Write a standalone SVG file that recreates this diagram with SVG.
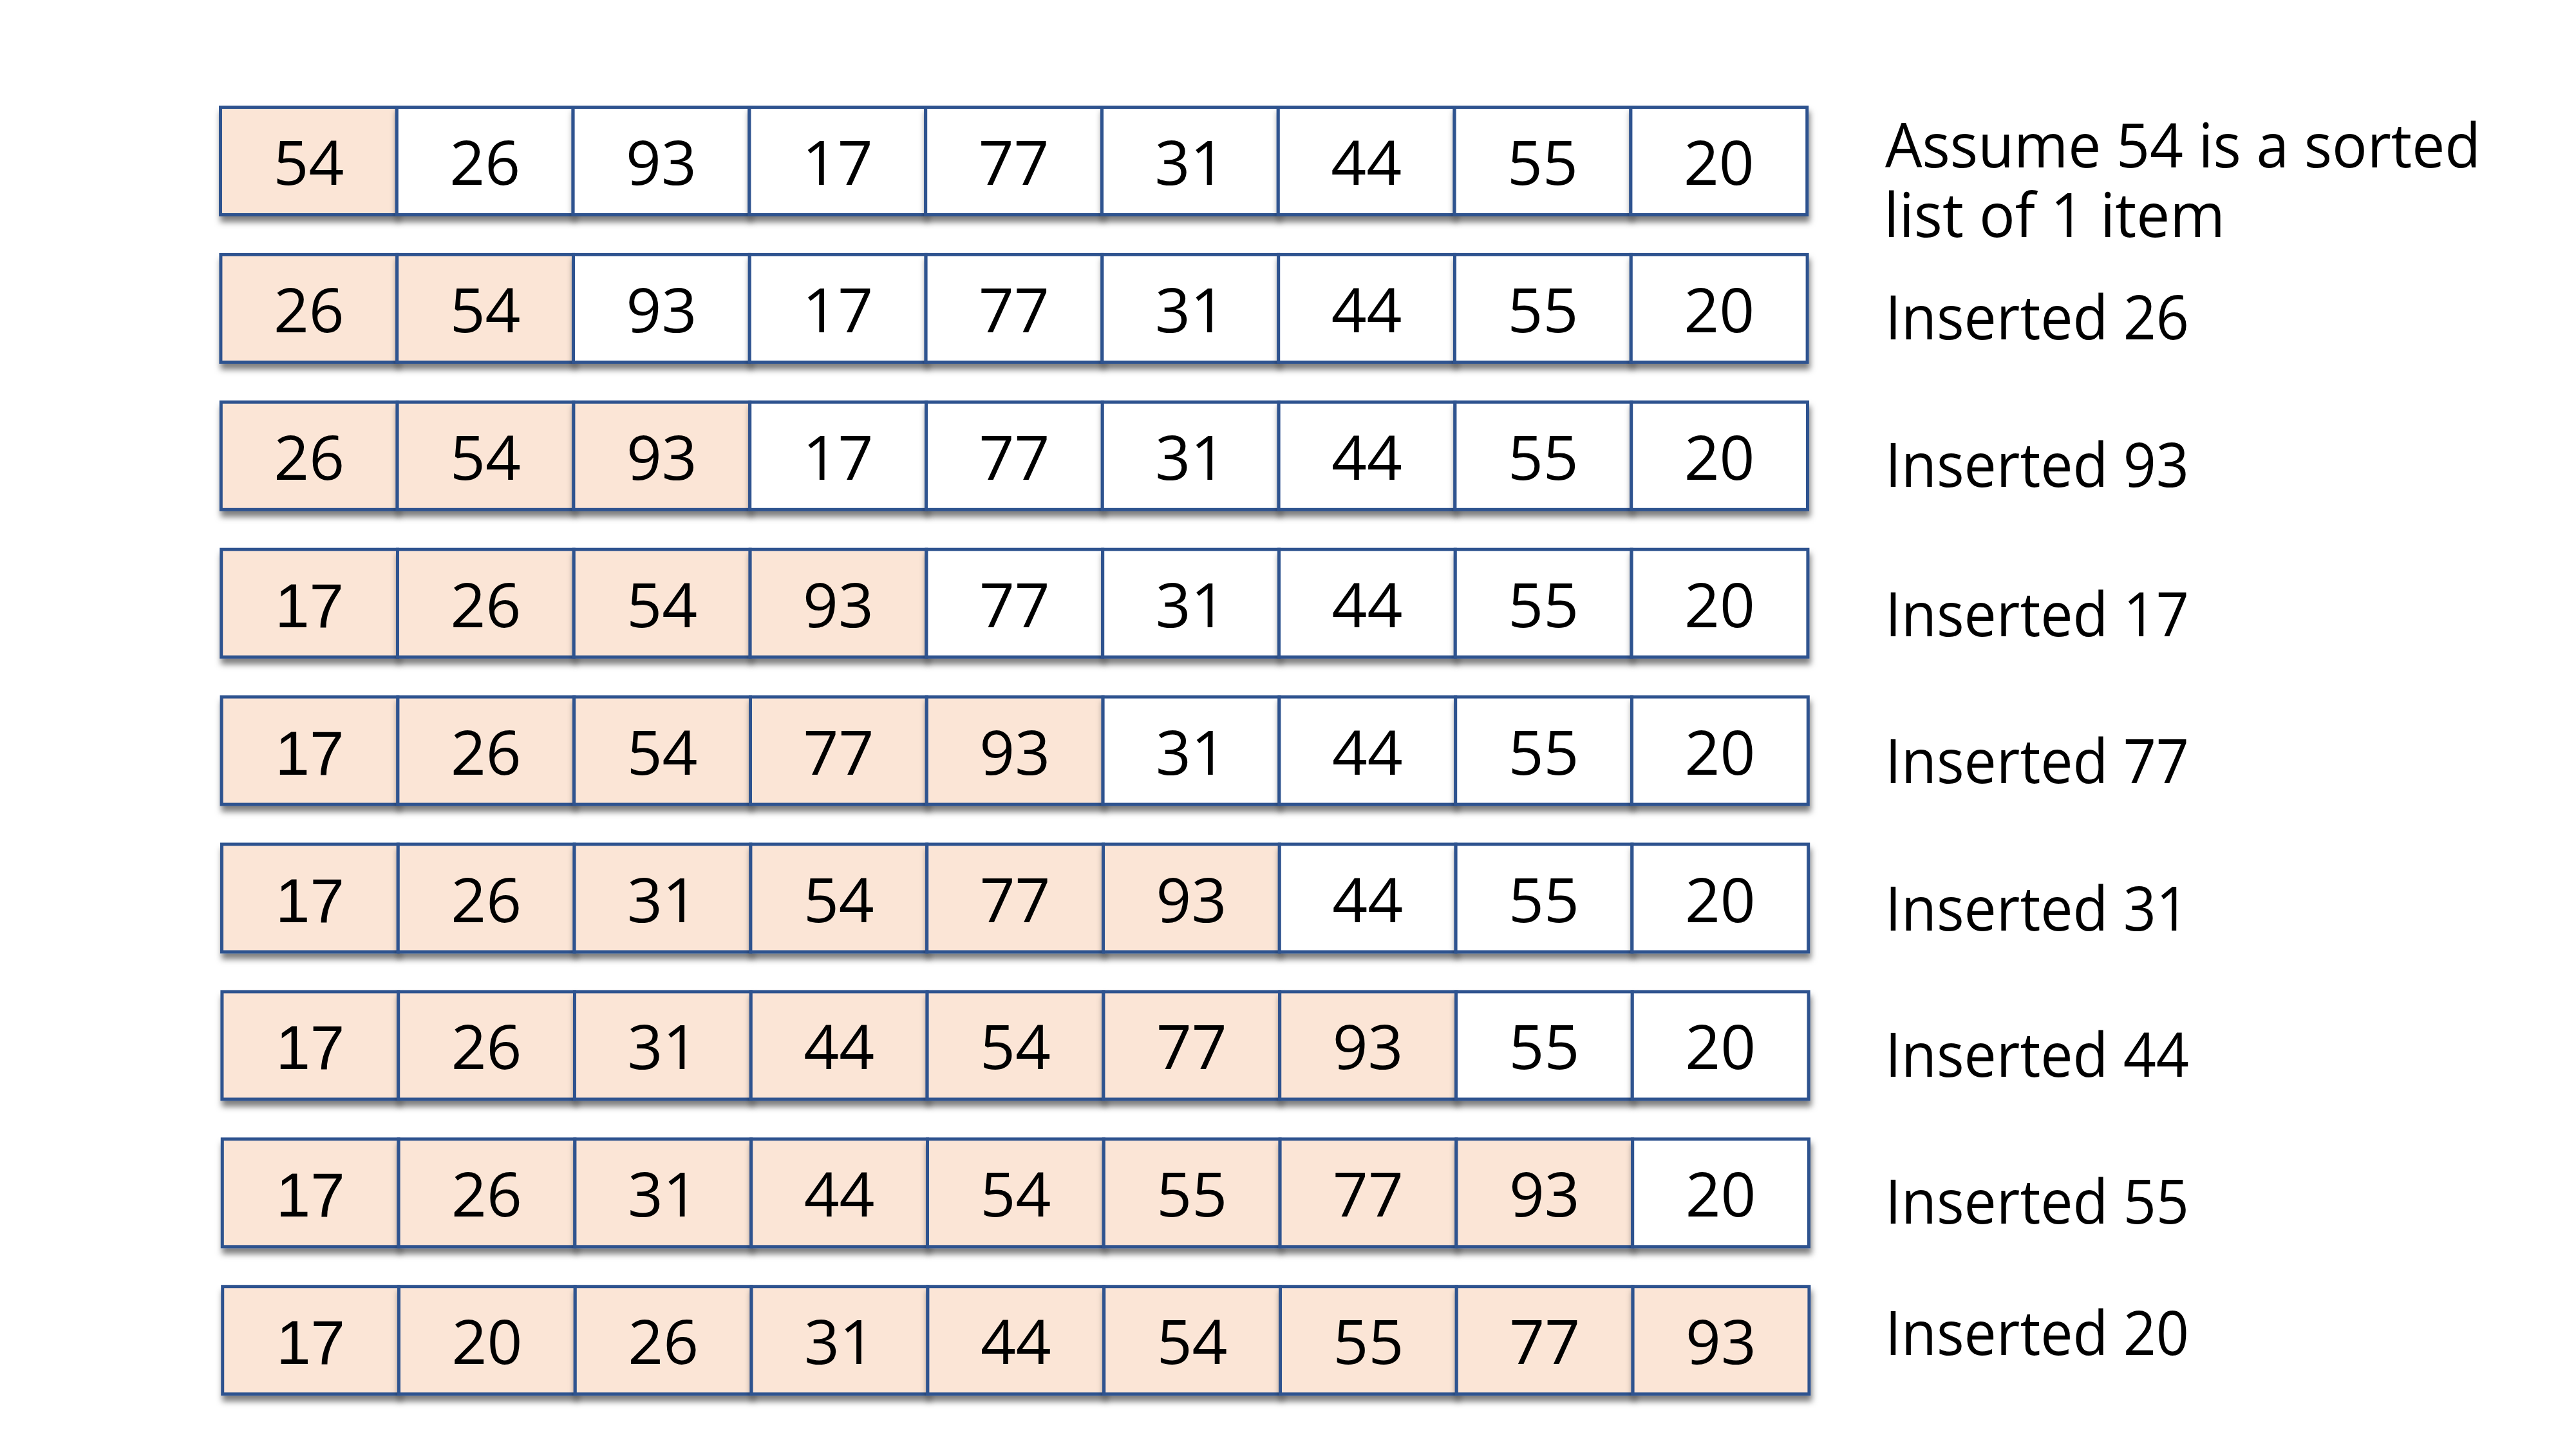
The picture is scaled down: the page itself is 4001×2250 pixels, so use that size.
<svg xmlns="http://www.w3.org/2000/svg" width="4001" height="2250" viewBox="0 0 4001 2250">
<style>
rect.c{stroke:#2F528F;stroke-width:5;filter:url(#sh)}
rect.s{fill:#FBE5D6}
rect.u{fill:#FFFFFF}
text.n{font-family:"Open Sans","Noto Sans",sans-serif;font-size:96px;text-anchor:middle;fill:#000}
text.a{font-family:"Liberation Sans",Arial,sans-serif;font-size:96px;text-anchor:middle;fill:#000}
text.l{font-family:"Open Sans","Noto Sans",sans-serif;font-size:96px;fill:#000}
</style>
<defs>
<filter id="sh" x="-10%" y="-20%" width="120%" height="150%">
<feDropShadow dx="2" dy="9" stdDeviation="5" flood-color="#000" flood-opacity="0.5"/>
</filter>
</defs>
<rect width="4001" height="2250" fill="#FFFFFF"/>

<g id="row1" transform="translate(340,164)">
<g id="r1c1"><rect class="c s" x="2.5" y="2.5" width="273.8" height="167"/><text class="n" x="139.4" y="123">54</text></g>
<g id="r1c2"><rect class="c u" x="276.3" y="2.5" width="273.8" height="167"/><text class="n" x="413.2" y="123">26</text></g>
<g id="r1c3"><rect class="c u" x="550.1" y="2.5" width="273.8" height="167"/><text class="n" x="687" y="123">93</text></g>
<g id="r1c4"><rect class="c u" x="823.9" y="2.5" width="273.8" height="167"/><text class="n" x="960.8" y="123">17</text></g>
<g id="r1c5"><rect class="c u" x="1097.7" y="2.5" width="273.8" height="167"/><text class="n" x="1234.6" y="123">77</text></g>
<g id="r1c6"><rect class="c u" x="1371.5" y="2.5" width="273.8" height="167"/><text class="n" x="1508.4" y="123">31</text></g>
<g id="r1c7"><rect class="c u" x="1645.3" y="2.5" width="273.8" height="167"/><text class="n" x="1782.2" y="123">44</text></g>
<g id="r1c8"><rect class="c u" x="1919.1" y="2.5" width="273.8" height="167"/><text class="n" x="2056" y="123">55</text></g>
<g id="r1c9"><rect class="c u" x="2192.9" y="2.5" width="273.8" height="167"/><text class="n" x="2329.8" y="123">20</text></g>
</g>

<g id="row2" transform="translate(340.4,392.9)">
<g id="r2c1"><rect class="c s" x="2.5" y="2.5" width="273.8" height="167"/><text class="n" x="139.4" y="123">26</text></g>
<g id="r2c2"><rect class="c s" x="276.3" y="2.5" width="273.8" height="167"/><text class="n" x="413.2" y="123">54</text></g>
<g id="r2c3"><rect class="c u" x="550.1" y="2.5" width="273.8" height="167"/><text class="n" x="687" y="123">93</text></g>
<g id="r2c4"><rect class="c u" x="823.9" y="2.5" width="273.8" height="167"/><text class="n" x="960.8" y="123">17</text></g>
<g id="r2c5"><rect class="c u" x="1097.7" y="2.5" width="273.8" height="167"/><text class="n" x="1234.6" y="123">77</text></g>
<g id="r2c6"><rect class="c u" x="1371.5" y="2.5" width="273.8" height="167"/><text class="n" x="1508.4" y="123">31</text></g>
<g id="r2c7"><rect class="c u" x="1645.3" y="2.5" width="273.8" height="167"/><text class="n" x="1782.2" y="123">44</text></g>
<g id="r2c8"><rect class="c u" x="1919.1" y="2.5" width="273.8" height="167"/><text class="n" x="2056" y="123">55</text></g>
<g id="r2c9"><rect class="c u" x="2192.9" y="2.5" width="273.8" height="167"/><text class="n" x="2329.8" y="123">20</text></g>
</g>

<g id="row3" transform="translate(340.8,621.8)">
<g id="r3c1"><rect class="c s" x="2.5" y="2.5" width="273.8" height="167"/><text class="n" x="139.4" y="123">26</text></g>
<g id="r3c2"><rect class="c s" x="276.3" y="2.5" width="273.8" height="167"/><text class="n" x="413.2" y="123">54</text></g>
<g id="r3c3"><rect class="c s" x="550.1" y="2.5" width="273.8" height="167"/><text class="n" x="687" y="123">93</text></g>
<g id="r3c4"><rect class="c u" x="823.9" y="2.5" width="273.8" height="167"/><text class="n" x="960.8" y="123">17</text></g>
<g id="r3c5"><rect class="c u" x="1097.7" y="2.5" width="273.8" height="167"/><text class="n" x="1234.6" y="123">77</text></g>
<g id="r3c6"><rect class="c u" x="1371.5" y="2.5" width="273.8" height="167"/><text class="n" x="1508.4" y="123">31</text></g>
<g id="r3c7"><rect class="c u" x="1645.3" y="2.5" width="273.8" height="167"/><text class="n" x="1782.2" y="123">44</text></g>
<g id="r3c8"><rect class="c u" x="1919.1" y="2.5" width="273.8" height="167"/><text class="n" x="2056" y="123">55</text></g>
<g id="r3c9"><rect class="c u" x="2192.9" y="2.5" width="273.8" height="167"/><text class="n" x="2329.8" y="123">20</text></g>
</g>

<g id="row4" transform="translate(341.2,850.7)">
<g id="r4c1"><rect class="c s" x="2.5" y="2.5" width="273.8" height="167"/><text class="a" x="139.4" y="123">17</text></g>
<g id="r4c2"><rect class="c s" x="276.3" y="2.5" width="273.8" height="167"/><text class="n" x="413.2" y="123">26</text></g>
<g id="r4c3"><rect class="c s" x="550.1" y="2.5" width="273.8" height="167"/><text class="n" x="687" y="123">54</text></g>
<g id="r4c4"><rect class="c s" x="823.9" y="2.5" width="273.8" height="167"/><text class="n" x="960.8" y="123">93</text></g>
<g id="r4c5"><rect class="c u" x="1097.7" y="2.5" width="273.8" height="167"/><text class="n" x="1234.6" y="123">77</text></g>
<g id="r4c6"><rect class="c u" x="1371.5" y="2.5" width="273.8" height="167"/><text class="n" x="1508.4" y="123">31</text></g>
<g id="r4c7"><rect class="c u" x="1645.3" y="2.5" width="273.8" height="167"/><text class="n" x="1782.2" y="123">44</text></g>
<g id="r4c8"><rect class="c u" x="1919.1" y="2.5" width="273.8" height="167"/><text class="n" x="2056" y="123">55</text></g>
<g id="r4c9"><rect class="c u" x="2192.9" y="2.5" width="273.8" height="167"/><text class="n" x="2329.8" y="123">20</text></g>
</g>

<g id="row5" transform="translate(341.6,1079.6)">
<g id="r5c1"><rect class="c s" x="2.5" y="2.5" width="273.8" height="167"/><text class="a" x="139.4" y="123">17</text></g>
<g id="r5c2"><rect class="c s" x="276.3" y="2.5" width="273.8" height="167"/><text class="n" x="413.2" y="123">26</text></g>
<g id="r5c3"><rect class="c s" x="550.1" y="2.5" width="273.8" height="167"/><text class="n" x="687" y="123">54</text></g>
<g id="r5c4"><rect class="c s" x="823.9" y="2.5" width="273.8" height="167"/><text class="n" x="960.8" y="123">77</text></g>
<g id="r5c5"><rect class="c s" x="1097.7" y="2.5" width="273.8" height="167"/><text class="n" x="1234.6" y="123">93</text></g>
<g id="r5c6"><rect class="c u" x="1371.5" y="2.5" width="273.8" height="167"/><text class="n" x="1508.4" y="123">31</text></g>
<g id="r5c7"><rect class="c u" x="1645.3" y="2.5" width="273.8" height="167"/><text class="n" x="1782.2" y="123">44</text></g>
<g id="r5c8"><rect class="c u" x="1919.1" y="2.5" width="273.8" height="167"/><text class="n" x="2056" y="123">55</text></g>
<g id="r5c9"><rect class="c u" x="2192.9" y="2.5" width="273.8" height="167"/><text class="n" x="2329.8" y="123">20</text></g>
</g>

<g id="row6" transform="translate(342,1308.5)">
<g id="r6c1"><rect class="c s" x="2.5" y="2.5" width="273.8" height="167"/><text class="a" x="139.4" y="123">17</text></g>
<g id="r6c2"><rect class="c s" x="276.3" y="2.5" width="273.8" height="167"/><text class="n" x="413.2" y="123">26</text></g>
<g id="r6c3"><rect class="c s" x="550.1" y="2.5" width="273.8" height="167"/><text class="n" x="687" y="123">31</text></g>
<g id="r6c4"><rect class="c s" x="823.9" y="2.5" width="273.8" height="167"/><text class="n" x="960.8" y="123">54</text></g>
<g id="r6c5"><rect class="c s" x="1097.7" y="2.5" width="273.8" height="167"/><text class="n" x="1234.6" y="123">77</text></g>
<g id="r6c6"><rect class="c s" x="1371.5" y="2.5" width="273.8" height="167"/><text class="n" x="1508.4" y="123">93</text></g>
<g id="r6c7"><rect class="c u" x="1645.3" y="2.5" width="273.8" height="167"/><text class="n" x="1782.2" y="123">44</text></g>
<g id="r6c8"><rect class="c u" x="1919.1" y="2.5" width="273.8" height="167"/><text class="n" x="2056" y="123">55</text></g>
<g id="r6c9"><rect class="c u" x="2192.9" y="2.5" width="273.8" height="167"/><text class="n" x="2329.8" y="123">20</text></g>
</g>

<g id="row7" transform="translate(342.4,1537.4)">
<g id="r7c1"><rect class="c s" x="2.5" y="2.5" width="273.8" height="167"/><text class="a" x="139.4" y="123">17</text></g>
<g id="r7c2"><rect class="c s" x="276.3" y="2.5" width="273.8" height="167"/><text class="n" x="413.2" y="123">26</text></g>
<g id="r7c3"><rect class="c s" x="550.1" y="2.5" width="273.8" height="167"/><text class="n" x="687" y="123">31</text></g>
<g id="r7c4"><rect class="c s" x="823.9" y="2.5" width="273.8" height="167"/><text class="n" x="960.8" y="123">44</text></g>
<g id="r7c5"><rect class="c s" x="1097.7" y="2.5" width="273.8" height="167"/><text class="n" x="1234.6" y="123">54</text></g>
<g id="r7c6"><rect class="c s" x="1371.5" y="2.5" width="273.8" height="167"/><text class="n" x="1508.4" y="123">77</text></g>
<g id="r7c7"><rect class="c s" x="1645.3" y="2.5" width="273.8" height="167"/><text class="n" x="1782.2" y="123">93</text></g>
<g id="r7c8"><rect class="c u" x="1919.1" y="2.5" width="273.8" height="167"/><text class="n" x="2056" y="123">55</text></g>
<g id="r7c9"><rect class="c u" x="2192.9" y="2.5" width="273.8" height="167"/><text class="n" x="2329.8" y="123">20</text></g>
</g>

<g id="row8" transform="translate(342.8,1766.3)">
<g id="r8c1"><rect class="c s" x="2.5" y="2.5" width="273.8" height="167"/><text class="a" x="139.4" y="123">17</text></g>
<g id="r8c2"><rect class="c s" x="276.3" y="2.5" width="273.8" height="167"/><text class="n" x="413.2" y="123">26</text></g>
<g id="r8c3"><rect class="c s" x="550.1" y="2.5" width="273.8" height="167"/><text class="n" x="687" y="123">31</text></g>
<g id="r8c4"><rect class="c s" x="823.9" y="2.5" width="273.8" height="167"/><text class="n" x="960.8" y="123">44</text></g>
<g id="r8c5"><rect class="c s" x="1097.7" y="2.5" width="273.8" height="167"/><text class="n" x="1234.6" y="123">54</text></g>
<g id="r8c6"><rect class="c s" x="1371.5" y="2.5" width="273.8" height="167"/><text class="n" x="1508.4" y="123">55</text></g>
<g id="r8c7"><rect class="c s" x="1645.3" y="2.5" width="273.8" height="167"/><text class="n" x="1782.2" y="123">77</text></g>
<g id="r8c8"><rect class="c s" x="1919.1" y="2.5" width="273.8" height="167"/><text class="n" x="2056" y="123">93</text></g>
<g id="r8c9"><rect class="c u" x="2192.9" y="2.5" width="273.8" height="167"/><text class="n" x="2329.8" y="123">20</text></g>
</g>

<g id="row9" transform="translate(343.2,1995.2)">
<g id="r9c1"><rect class="c s" x="2.5" y="2.5" width="273.8" height="167"/><text class="a" x="139.4" y="123">17</text></g>
<g id="r9c2"><rect class="c s" x="276.3" y="2.5" width="273.8" height="167"/><text class="n" x="413.2" y="123">20</text></g>
<g id="r9c3"><rect class="c s" x="550.1" y="2.5" width="273.8" height="167"/><text class="n" x="687" y="123">26</text></g>
<g id="r9c4"><rect class="c s" x="823.9" y="2.5" width="273.8" height="167"/><text class="n" x="960.8" y="123">31</text></g>
<g id="r9c5"><rect class="c s" x="1097.7" y="2.5" width="273.8" height="167"/><text class="n" x="1234.6" y="123">44</text></g>
<g id="r9c6"><rect class="c s" x="1371.5" y="2.5" width="273.8" height="167"/><text class="n" x="1508.4" y="123">54</text></g>
<g id="r9c7"><rect class="c s" x="1645.3" y="2.5" width="273.8" height="167"/><text class="n" x="1782.2" y="123">55</text></g>
<g id="r9c8"><rect class="c s" x="1919.1" y="2.5" width="273.8" height="167"/><text class="n" x="2056" y="123">77</text></g>
<g id="r9c9"><rect class="c s" x="2192.9" y="2.5" width="273.8" height="167"/><text class="n" x="2329.8" y="123">93</text></g>
</g>

<g id="labels">
<g id="label1"><text class="l"><tspan x="2928" y="260" textLength="925" lengthAdjust="spacingAndGlyphs">Assume 54 is a sorted</tspan><tspan x="2926" y="368" textLength="530" lengthAdjust="spacingAndGlyphs">list of 1 item</tspan></text></g>
<g id="label2"><text class="l" x="2928" y="527" textLength="472" lengthAdjust="spacingAndGlyphs">Inserted 26</text></g>
<g id="label3"><text class="l" x="2928" y="756" textLength="472" lengthAdjust="spacingAndGlyphs">Inserted 93</text></g>
<g id="label4"><text class="l" x="2928" y="988" textLength="472" lengthAdjust="spacingAndGlyphs">Inserted 17</text></g>
<g id="label5"><text class="l" x="2928" y="1216" textLength="472" lengthAdjust="spacingAndGlyphs">Inserted 77</text></g>
<g id="label6"><text class="l" x="2928" y="1445" textLength="472" lengthAdjust="spacingAndGlyphs">Inserted 31</text></g>
<g id="label7"><text class="l" x="2928" y="1672" textLength="472" lengthAdjust="spacingAndGlyphs">Inserted 44</text></g>
<g id="label8"><text class="l" x="2928" y="1900" textLength="472" lengthAdjust="spacingAndGlyphs">Inserted 55</text></g>
<g id="label9"><text class="l" x="2928" y="2104" textLength="472" lengthAdjust="spacingAndGlyphs">Inserted 20</text></g>
</g>
</svg>
